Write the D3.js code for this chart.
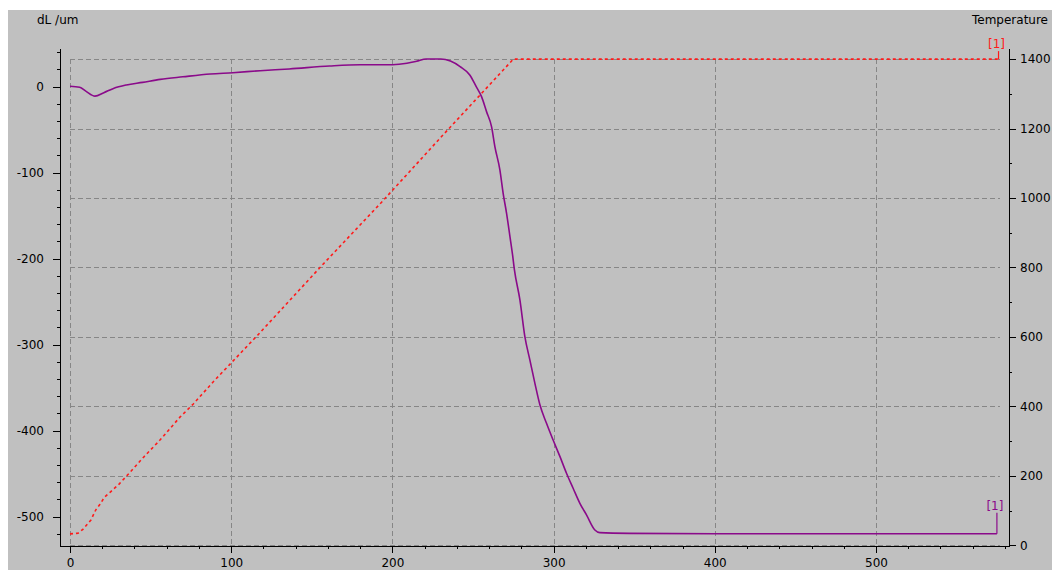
<!DOCTYPE html>
<html>
<head>
<meta charset="utf-8">
<script src="https://cdn.jsdelivr.net/npm/d3@7"></script>
<style>
  html, body { margin: 0; padding: 0; background: #fff; }
  svg { display: block; }
  text { font-family: "DejaVu Sans", sans-serif; font-size: 12px; fill: #000; }
</style>
</head>
<body>
<div id="chart"></div>
<script>
// dilatometer run: length change (dL) and furnace temperature vs time (min)
const dlTime = [0, 6, 10, 15.5, 21, 27, 35, 45, 56, 70, 87, 101, 118, 136, 161, 180, 200, 209, 215, 221,
  230, 236, 242, 248, 252, 255.3, 258.4, 261.5, 263.6, 266.7, 268.7, 270.8, 272.9, 274.5, 275.7, 279.1,
  282.2, 285.3, 288.4, 291.5, 295.6, 299.7, 303.9, 308, 312.1, 316.3, 320.4, 325.6, 328.7, 347, 400, 500, 575];
const dlValues = [0.5, -0.7, -5.5, -11, -7, -2, 2, 5, 8.5, 11.5, 14.8, 16.3, 18.6, 20.6, 24, 25.5, 25.6, 27.2, 29.5, 32.2,
  32.2, 29.8, 23.3, 13.6, 0, -11.6, -29, -46.5, -70, -97, -124, -147, -174, -195, -213, -248,
  -291, -318, -345, -370, -391.5, -411, -430, -449.6, -467, -484.5, -498, -515.6, -518.7, -519.5, -520, -520, -520];

const tempTime = [0, 5, 8, 13, 16, 18.6, 21.3, 25.2, 30.6, 35.8, 45.5, 55.8, 68.2, 76.5, 89.3, 116.8, 156.1, 193.3, 230.5, 275, 576];
const tempValues = [33, 35, 46, 73, 102, 118, 138, 154, 177, 203, 253, 303, 369, 407, 473, 607, 805, 988, 1177, 1400, 1400];

// tick labels
const xTicks = [0, 100, 200, 300, 400, 500];
const dlTicks = [0, -100, -200, -300, -400, -500];
const tempTicks = [0, 200, 400, 600, 800, 1000, 1200, 1400];

const config = {
  width: 1052,
  height: 570,
  bg: { x: 8, y: 10 },
  plot: { left: 60, right: 1009, top: 48, bottom: 546 },
  gridEnd: 577
};

const dlData = dlTime.map((t, i) => ({ t, v: dlValues[i] }));
const tempData = tempTime.map((t, i) => ({ t, v: tempValues[i] }));

// Scales
const xScale = d3.scaleLinear().domain([-6.2, 582.5]).range([config.plot.left, config.plot.right]);
const yLeft = d3.scaleLinear().domain([-534.2, 45]).range([config.plot.bottom, config.plot.top]);
const yRight = d3.scaleLinear().domain([-2, 1432]).range([config.plot.bottom, config.plot.top]);

const svg = d3.select('#chart').append('svg')
  .attr('width', config.width)
  .attr('height', config.height);

svg.append('rect')
  .attr('x', config.bg.x)
  .attr('y', config.bg.y)
  .attr('width', config.width - config.bg.x)
  .attr('height', config.height - config.bg.y)
  .attr('fill', '#c0c0c0');

// Grid (follows x ticks and temperature ticks)
const grid = svg.append('g').attr('class', 'grid')
  .attr('stroke', '#868686')
  .attr('stroke-width', 1)
  .attr('stroke-dasharray', '5,3')
  .attr('shape-rendering', 'crispEdges');

grid.selectAll('.vgrid')
  .data(xTicks)
  .join('line')
  .attr('class', 'vgrid')
  .attr('x1', d => Math.round(xScale(d)) + 0.5)
  .attr('x2', d => Math.round(xScale(d)) + 0.5)
  .attr('y1', yRight(1400))
  .attr('y2', yRight(0));

grid.selectAll('.hgrid')
  .data(tempTicks)
  .join('line')
  .attr('class', 'hgrid')
  .attr('x1', xScale(0))
  .attr('x2', xScale(config.gridEnd))
  .attr('y1', d => Math.round(yRight(d)) + 0.5)
  .attr('y2', d => Math.round(yRight(d)) + 0.5);

// Axes: minor ticks without labels, major ticks with labels (plain hyphen minus)
function drawAxis(axisFn, scale, minorValues, majorValues, transform, pad) {
  const g = svg.append('g').attr('transform', transform);
  g.append('g').call(axisFn(scale).tickValues(minorValues).tickSize(3).tickSizeOuter(0).tickFormat(''));
  g.append('g').call(axisFn(scale).tickValues(majorValues).tickSize(7).tickSizeOuter(0).tickPadding(pad).tickFormat(d => String(d)));
  g.selectAll('text').attr('font-family', null).attr('font-size', null);
  g.selectAll('path, line').attr('stroke', '#000').attr('shape-rendering', 'crispEdges');
  return g;
}

drawAxis(d3.axisBottom, xScale, d3.range(0, 581, 20), xTicks, `translate(0,${config.plot.bottom})`, 5);
drawAxis(d3.axisLeft, yLeft, d3.range(-520, 41, 20), dlTicks, `translate(${config.plot.left},0)`, 9);
drawAxis(d3.axisRight, yRight, d3.range(0, 1401, 100), tempTicks, `translate(${config.plot.right},0)`, 4);

// Axis titles
svg.append('text').attr('x', 37).attr('y', 24).text('dL /um');
svg.append('text').attr('x', 1048).attr('y', 24).attr('text-anchor', 'end').text('Temperature');

// Series lines
const tempLine = d3.line().x(d => xScale(d.t)).y(d => yRight(d.v));
const dlLine = d3.line().x(d => xScale(d.t)).y(d => yLeft(d.v)).curve(d3.curveMonotoneX);

svg.append('path')
  .datum(tempData)
  .attr('fill', 'none')
  .attr('stroke', '#ff1a1a')
  .attr('stroke-width', 1.6)
  .attr('stroke-dasharray', '3,3')
  .attr('d', tempLine);

svg.append('path')
  .datum(dlData)
  .attr('fill', 'none')
  .attr('stroke', '#8a0a8a')
  .attr('stroke-width', 1.6)
  .attr('d', dlLine);

// "[1]" curve markers at the end of each series
function endLabel(last, yScale, color, rise) {
  const x = xScale(last.t);
  const y = yScale(last.v);
  svg.append('line')
    .attr('x1', x).attr('x2', x)
    .attr('y1', y).attr('y2', y - rise)
    .attr('stroke', color).attr('stroke-width', 1.2);
  svg.append('text')
    .attr('x', x - 2).attr('y', y - rise - 3)
    .attr('text-anchor', 'middle')
    .style('fill', color)
    .text('[1]');
}

endLabel(tempData[tempData.length - 1], yRight, '#ff1a1a', 8);
endLabel(dlData[dlData.length - 1], yLeft, '#8a0a8a', 21);
</script>
</body>
</html>
